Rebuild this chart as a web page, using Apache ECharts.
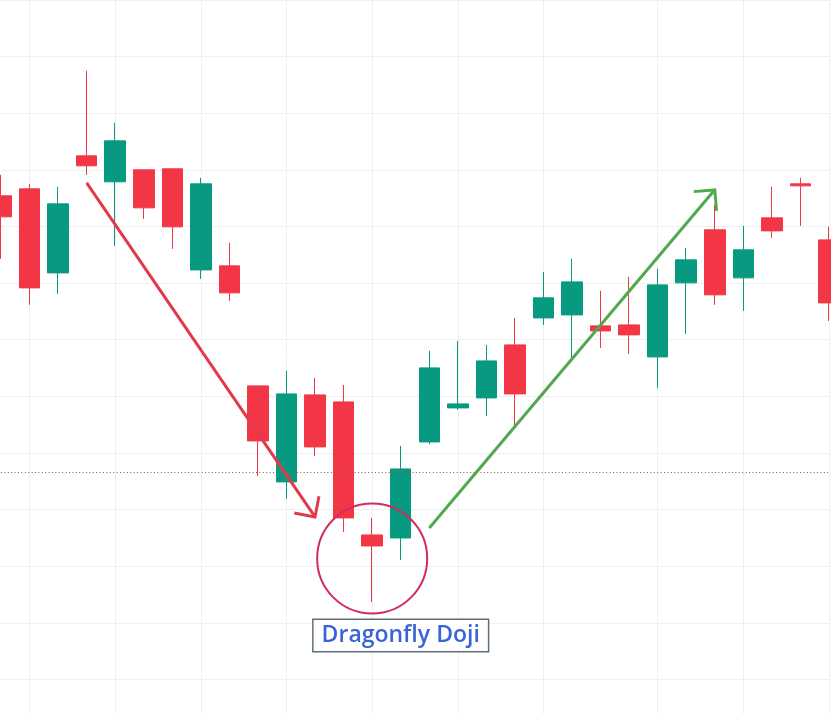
<!DOCTYPE html>
<html>
<head>
<meta charset="utf-8">
<script src="https://cdn.jsdelivr.net/npm/echarts@6/dist/echarts.min.js"></script>
<style>
  html, body { margin: 0; padding: 0; background: #fff; }
  #chart { width: 831px; height: 714px; }
</style>
</head>
<body>
<div id="chart"></div>
<script>
// candles, one per session
var days = ['1', '2', '3', '4', '5', '6', '7', '8', '9', '10',
  '11', '12', '13', '14', '15', '16', '17', '18', '19', '20',
  '21', '22', '23', '24', '25', '26', '27', '28', '29', '30'];

// [open, close, low, high]
var ohlc = [
  [95.41, 91.70, 84.28, 99.12],
  [96.64, 79.15, 76.15, 97.53],
  [81.80, 93.99, 78.09, 97.00],
  [102.47, 100.71, 99.12, 117.49],
  [97.88, 105.12, 86.57, 108.30],
  [100.00, 93.29, 91.34, 100.00],
  [100.18, 89.93, 86.04, 100.18],
  [82.33, 97.53, 80.74, 98.59],
  [83.04, 78.27, 76.86, 87.10],
  [61.84, 52.12, 45.94, 61.84],
  [44.88, 60.42, 41.87, 64.49],
  [60.25, 51.06, 49.47, 63.25],
  [59.01, 38.52, 36.04, 62.01],
  [35.51, 33.57, 23.67, 38.52],
  [34.98, 47.17, 31.10, 51.24],
  [51.94, 65.02, 51.59, 68.02],
  [57.95, 58.66, 57.60, 69.79],
  [59.72, 66.25, 56.54, 69.08],
  [69.08, 60.42, 54.59, 73.85],
  [73.85, 77.39, 72.61, 81.98],
  [74.38, 80.21, 66.78, 84.28],
  [72.44, 71.55, 68.55, 78.62],
  [72.61, 70.85, 67.49, 81.10],
  [66.96, 79.68, 61.48, 82.51],
  [80.04, 84.10, 71.02, 86.22],
  [89.40, 77.92, 76.15, 93.82],
  [80.92, 85.87, 75.09, 90.11],
  [91.52, 89.22, 87.99, 97.00],
  [97.53, 97.17, 90.11, 98.59],
  [87.63, 76.50, 73.32, 89.93]
];

// candles that carry a vertical grid line
var gridDays = [1, 4, 7, 10, 13, 16, 19, 23, 26, 29];

// level line and drawn annotations: [dayIndex, price]
var levelPrice = 46.64;
var downTrend = [[3, 97.70], [11, 38.69]];
var upTrend = [[15, 36.75], [25, 96.47]];
var dojiMark = [13, 31.36];
var dojiLabel = [14, 17.76];

// open chevron, tip at the symbol centre
var chevron = 'path://M16,0L16.01,0ZM16,14L32,30L29.9,32.1L16,18.2L2.1,32.1L0,30Z';

var chart = echarts.init(document.getElementById('chart'));

var option = {
  backgroundColor: '#ffffff',
  animation: false,
  // plot runs past the bottom edge so the 0 line sits below the view
  grid: { left: 1, right: 2, top: 0, bottom: -22, outerBoundsMode: 'none' },
  xAxis: {
    type: 'category',
    data: days,
    boundaryGap: false,
    axisLine: { show: false },
    axisTick: { show: false },
    axisLabel: { show: false },
    splitLine: {
      show: true,
      interval: function (index) { return gridDays.indexOf(index) >= 0; },
      lineStyle: { color: '#eef0f3', width: 1 }
    }
  },
  yAxis: {
    type: 'value',
    min: 0,
    max: 130,
    interval: 10,
    axisLine: { show: false },
    axisTick: { show: false },
    axisLabel: { show: false },
    splitLine: { show: true, lineStyle: { color: '#eef0f3', width: 1 } }
  },
  series: [{
    type: 'candlestick',
    data: ohlc,
    barWidth: 21,
    itemStyle: {
      color: '#089981',
      color0: '#f23645',
      borderColor: '#089981',
      borderColor0: '#f23645',
      borderWidth: 1
    },
    emphasis: { disabled: true },
    markLine: {
      silent: true,
      symbol: 'none',
      label: { show: false },
      emphasis: { disabled: true },
      data: [
        {
          yAxis: levelPrice,
          lineStyle: { color: '#b0455a', width: 1, type: [1, 2.4] }
        },
        [
          { coord: downTrend[0], symbol: 'none', lineStyle: { color: '#e23a4b', width: 3, type: 'solid' } },
          { coord: downTrend[1], symbol: chevron, symbolSize: 32 }
        ],
        [
          { coord: upTrend[0], symbol: 'none', lineStyle: { color: '#52a84f', width: 3, type: 'solid' } },
          { coord: upTrend[1], symbol: chevron, symbolSize: 32 }
        ]
      ]
    },
    markPoint: {
      silent: true,
      emphasis: { disabled: true },
      data: [
        {
          coord: dojiMark,
          symbol: 'circle',
          symbolSize: 110,
          itemStyle: { color: 'rgba(0,0,0,0)', borderColor: '#d42b5e', borderWidth: 2 },
          label: { show: false }
        },
        {
          coord: dojiLabel,
          symbol: 'rect',
          symbolSize: 1,
          itemStyle: { color: 'rgba(0,0,0,0)' },
          label: {
            show: true,
            position: 'inside',
            formatter: 'Dragonfly Doji',
            fontFamily: 'Open Sans',
            fontSize: 23,
            fontWeight: 600,
            color: '#3a63d6',
            backgroundColor: '#ffffff',
            borderColor: '#5e6f7c',
            borderWidth: 1.5,
            padding: [4, 8, 4, 8]
          }
        }
      ]
    }
  }]
};

chart.setOption(option);
</script>
</body>
</html>
